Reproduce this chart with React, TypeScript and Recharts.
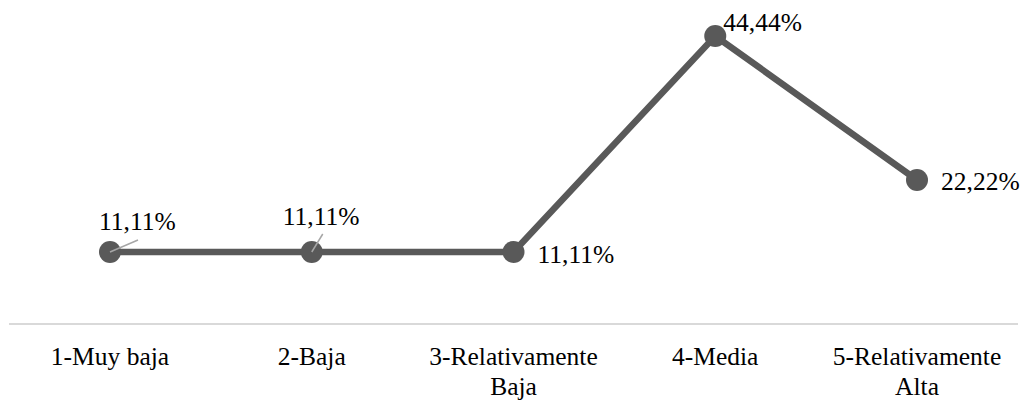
import { Line, LineChart, XAxis, YAxis, LabelList } from "recharts";

const categories = [
  "1-Muy baja",
  "2-Baja",
  "3-Relativamente\nBaja",
  "4-Media",
  "5-Relativamente\nAlta",
];
const values = [11.11, 11.11, 11.11, 44.44, 22.22];

const data = categories.map((name, i) => ({ name, value: values[i] }));

// where each value label sits relative to its point (and its small leader line)
const labelPlacement = [
  { dx: -11, dy: -22, leader: [28, -12] },
  { dx: -29, dy: -27, leader: [11, -18] },
  { dx: 24, dy: 11, leader: null },
  { dx: 8, dy: -5, leader: null },
  { dx: 24, dy: 10, leader: null },
];

const FONT = "Liberation Serif";
const LINE_COLOR = "#595959";

const formatPct = (v: number) => v.toFixed(2).replace(".", ",") + "%";

const ValueLabel = (props: any) => {
  const { x, y, index, value } = props;
  const p = labelPlacement[index];
  if (!p) return null;
  return (
    <g>
      {p.leader && (
        <line
          x1={x}
          y1={y}
          x2={x + p.leader[0]}
          y2={y + p.leader[1]}
          stroke="#a6a6a6"
          strokeWidth={1.5}
        />
      )}
      <text
        x={x + p.dx}
        y={y + p.dy}
        style={{ fontFamily: FONT, fontSize: 25.5 }}
        fill="#000"
        textAnchor="start"
      >
        {formatPct(value)}
      </text>
    </g>
  );
};

const CategoryTick = (props: any) => {
  const { x, y, payload } = props;
  const lines = String(payload.value).split("\n");
  return (
    <text
      x={x}
      y={y}
      style={{ fontFamily: FONT, fontSize: 25.5 }}
      fill="#000"
      textAnchor="middle"
    >
      {lines.map((l, i) => (
        <tspan key={i} x={x} y={y + 41 + i * 30}>
          {l}
        </tspan>
      ))}
    </text>
  );
};

const App = () => {
  return (
    <div style={{ position: "absolute", left: 0, top: 0, background: "#fff" }}>
      <LineChart
        width={1027}
        height={403}
        data={data}
        margin={{ top: 0, right: 9, bottom: 0, left: 9 }}
      >
        <XAxis
          dataKey="name"
          height={79}
          interval={0}
          padding={{ left: 101, right: 101 }}
          axisLine={{ stroke: "#d9d9d9", strokeWidth: 2 }}
          tickLine={false}
          tickSize={0}
          tickMargin={0}
          tick={<CategoryTick />}
        />
        <YAxis hide domain={[0, 50]} />
        <Line
          type="linear"
          dataKey="value"
          stroke={LINE_COLOR}
          strokeWidth={6.5}
          dot={{ r: 11, fill: LINE_COLOR, stroke: "none", strokeWidth: 0 }}
          isAnimationActive={false}
        >
          <LabelList dataKey="value" content={<ValueLabel />} />
        </Line>
      </LineChart>
    </div>
  );
};

export default App;
